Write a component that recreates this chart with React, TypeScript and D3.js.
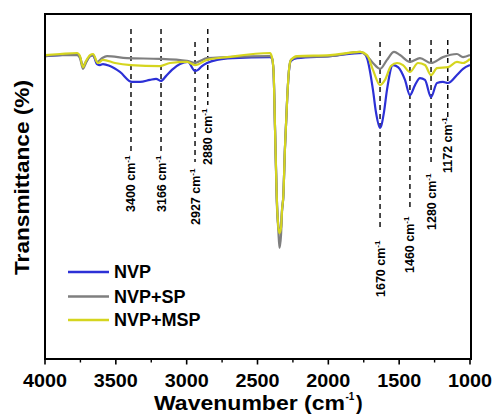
import React from "react";
import * as d3 from "d3";

// ---- data (wavenumber cm^-1, transmittance a.u.) ----
const NVP: [number, number][] = [
  [4000, 87.8], [3894, 88.1], [3774, 88.4], [3753, 87.5], [3732, 84.9], [3711, 86.1], [3682, 87.8], [3661, 88.1],
  [3633, 85.5], [3612, 85.2], [3591, 85.5], [3541, 84.9], [3471, 83.2], [3386, 80.3], [3329, 80.3], [3259, 80.9],
  [3216, 81.2], [3181, 80.6], [3146, 82.0], [3104, 83.8], [3047, 85.5], [2991, 86.1], [2941, 83.5], [2920, 83.8],
  [2892, 84.9], [2856, 85.8], [2786, 86.7], [2673, 87.2], [2412, 87.5], [2398, 87.2], [2387, 83.5], [2376, 66.4],
  [2364, 47.0], [2353, 38.5], [2345, 36.8], [2334, 38.2], [2327, 43.2], [2318, 47.0], [2306, 61.4], [2290, 75.9],
  [2278, 83.5], [2264, 86.4], [2221, 87.2], [1988, 87.8], [1755, 88.7], [1727, 87.2], [1685, 78.0], [1664, 71.6],
  [1635, 67.0], [1607, 71.6], [1586, 78.0], [1544, 85.2], [1508, 84.6], [1459, 80.9], [1424, 76.5], [1388, 79.4],
  [1353, 81.4], [1318, 80.9], [1275, 75.9], [1233, 80.0], [1191, 80.3], [1155, 80.0], [1092, 82.3], [1049, 84.1],
  [1000, 85.2],
];
const NVP_SP: [number, number][] = [
  [4000, 87.8], [3894, 88.1], [3774, 88.1], [3753, 87.2], [3732, 84.1], [3711, 85.8], [3682, 87.8], [3661, 88.1],
  [3633, 86.1], [3598, 87.2], [3562, 87.8], [3421, 87.2], [3188, 87.0], [2998, 86.4], [2941, 85.8], [2906, 86.4],
  [2856, 87.2], [2715, 87.5], [2412, 87.8], [2398, 87.2], [2387, 83.5], [2376, 66.4], [2364, 45.5], [2353, 37.4],
  [2345, 32.2], [2334, 35.9], [2327, 42.6], [2318, 47.0], [2306, 61.4], [2290, 75.9], [2278, 83.5], [2264, 86.7],
  [2221, 87.5], [1988, 87.8], [1776, 89.0], [1727, 87.8], [1685, 85.8], [1635, 84.1], [1586, 86.7], [1536, 89.0],
  [1494, 88.1], [1424, 86.1], [1353, 87.2], [1275, 85.8], [1191, 87.5], [1092, 88.4], [1049, 87.5], [1000, 88.1],
];
const NVP_MSP: [number, number][] = [
  [4000, 88.1], [3894, 88.4], [3774, 88.7], [3753, 87.8], [3732, 84.6], [3711, 86.4], [3682, 88.1], [3661, 88.4],
  [3626, 85.8], [3591, 86.7], [3506, 85.8], [3393, 85.2], [3188, 84.9], [3118, 85.8], [2998, 86.1], [2941, 85.2],
  [2856, 86.7], [2715, 87.5], [2412, 88.7], [2398, 87.5], [2387, 83.8], [2376, 66.4], [2364, 47.0], [2353, 38.3],
  [2345, 36.5], [2334, 38.0], [2327, 43.2], [2318, 47.0], [2306, 61.4], [2290, 75.9], [2278, 83.8], [2264, 86.7],
  [2221, 87.8], [1988, 88.1], [1776, 89.0], [1727, 88.1], [1685, 83.8], [1635, 79.4], [1600, 80.9], [1558, 84.9],
  [1515, 85.8], [1473, 85.2], [1424, 83.2], [1367, 85.8], [1318, 85.2], [1275, 82.3], [1233, 84.3], [1155, 84.6],
  [1092, 86.1], [1049, 85.8], [1000, 87.0],
];

const SERIES_NAMES = ["NVP", "NVP+SP", "NVP+MSP"];
const SERIES_DATA = [NVP, NVP_SP, NVP_MSP];

const MAJOR_TICKS = [4000, 3500, 3000, 2500, 2000, 1500, 1000];
const MINOR_TICKS = [3750, 3250, 2750, 2250, 1750, 1250];

// band markers: position as drawn, label text
const MARKER_WN = [3393, 3181, 2941, 2851, 1635, 1424, 1275, 1157];
const MARKER_LABELS = ["3400", "3166", "2927", "2880", "1670", "1460", "1280", "1172"];

// ---- layout / style ----
const COLORS = ["#2c30d6", "#7f7f7f", "#d5d51f"];
const MARK_TOP = [29, 29, 42, 29, 42, 40, 40, 40];
const MARK_BOTTOM = [152, 152, 162, 105, 227, 210, 165, 117];
const LABEL_BASE = [212, 212, 225, 165, 297, 273, 230, 173];

const W = 495, H = 417;
const L = 45, R = 470, T = 14, B = 359;
const FONT = "'Liberation Sans', Arial, sans-serif";

export default function App() {
  const x = d3.scaleLinear().domain([4000, 1000]).range([L, R]);
  const y = d3.scaleLinear().domain([0, 100]).range([B, T]);
  const line = d3
    .line<[number, number]>()
    .x((d) => x(d[0]))
    .y((d) => y(d[1]))
    .curve(d3.curveMonotoneX);

  const legendRows = [272, 296.5, 320];

  return (
    <svg
      width={W}
      height={H}
      style={{ position: "absolute", left: 0, top: 0, background: "#fff" }}
      fontFamily={FONT}
    >
      <rect x={0} y={0} width={W} height={H} fill="#fff" />
      {/* marker lines */}
      {MARKER_WN.map((wn, i) => (
        <line
          key={"m" + i}
          x1={x(wn)}
          x2={x(wn)}
          y1={MARK_TOP[i]}
          y2={MARK_BOTTOM[i]}
          stroke="#000"
          strokeWidth={1.4}
          strokeDasharray="5,4"
        />
      ))}
      {MARKER_WN.map((wn, i) => (
        <text
          key={"ml" + i}
          transform={`translate(${x(wn) + 4.5},${LABEL_BASE[i]}) rotate(-90)`}
          fontSize={12.5}
          fontWeight="bold"
          fill="#000"
        >
          {MARKER_LABELS[i] + " cm"}
          <tspan fontSize={8} dy={-5}>
            -1
          </tspan>
        </text>
      ))}
      {/* spectra */}
      {SERIES_DATA.map((data, i) => (
        <path
          key={"s" + i}
          d={line(data) || ""}
          fill="none"
          stroke={COLORS[i]}
          strokeWidth={2.2}
          strokeLinejoin="round"
        />
      ))}
      {/* frame */}
      <rect x={L} y={T} width={R - L + 1} height={B - T} fill="none" stroke="#000" strokeWidth={2} />
      {/* ticks */}
      {MAJOR_TICKS.map((t) => (
        <g key={"t" + t}>
          <line x1={x(t)} x2={x(t)} y1={B} y2={B + 5.5} stroke="#000" strokeWidth={1.6} />
          <text
            x={x(t)}
            y={387}
            textAnchor="middle"
            fontSize={19}
            fontWeight="bold"
            textLength={44}
            lengthAdjust="spacingAndGlyphs"
          >
            {t}
          </text>
        </g>
      ))}
      {MINOR_TICKS.map((t) => (
        <line key={"n" + t} x1={x(t)} x2={x(t)} y1={B} y2={B + 3.5} stroke="#000" strokeWidth={1.4} />
      ))}
      {/* axis titles */}
      <text
        x={154}
        y={410}
        fontSize={20}
        fontWeight="bold"
        textLength={191}
        lengthAdjust="spacingAndGlyphs"
      >
        Wavenumber (cm
      </text>
      <text x={345.5} y={400} fontSize={10} fontWeight="bold">
        -1
      </text>
      <text x={356} y={410} fontSize={20} fontWeight="bold">
        )
      </text>
      <text
        transform={`translate(29,177.5) rotate(-90)`}
        textAnchor="middle"
        fontSize={20}
        fontWeight="bold"
        textLength={195}
        lengthAdjust="spacingAndGlyphs"
      >
        Transmittance (%)
      </text>
      {/* legend */}
      {SERIES_NAMES.map((name, i) => (
        <g key={"l" + i}>
          <line x1={68} x2={109} y1={legendRows[i]} y2={legendRows[i]} stroke={COLORS[i]} strokeWidth={2.5} />
          <text x={114} y={legendRows[i] + 6.3} fontSize={18} fontWeight="bold">
            {name}
          </text>
        </g>
      ))}
    </svg>
  );
}
